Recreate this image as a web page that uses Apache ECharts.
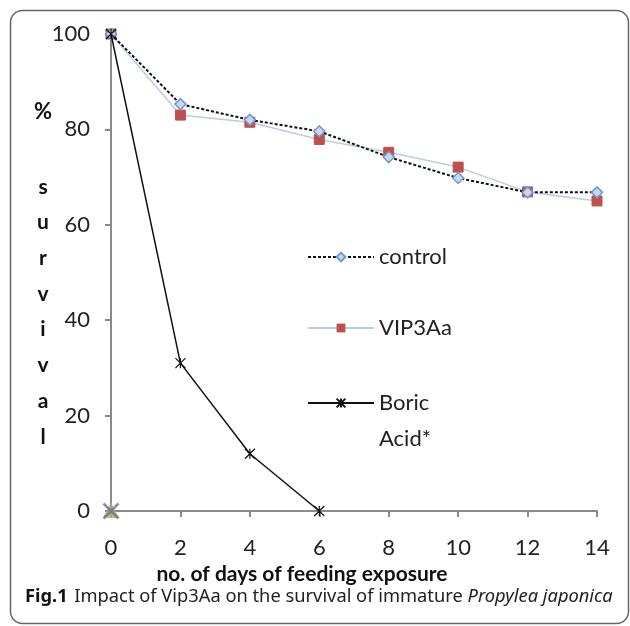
<!DOCTYPE html>
<html>
<head>
<meta charset="utf-8">
<script src="https://cdn.jsdelivr.net/npm/echarts@6/dist/echarts.min.js"></script>
<style>
  html, body { margin: 0; padding: 0; background: #fff; }
  #chart { width: 630px; height: 626px; }
</style>
</head>
<body>
<div id="chart"></div>
<script>
// days of feeding exposure
const days = [0, 2, 4, 6, 8, 10, 12, 14];
// % survival
const control = [100, 85.3, 82, 79.6, 74.2, 69.8, 66.8, 66.8];
const vip3aa = [100, 83, 81.5, 77.9, 75.2, 72.1, 66.9, 65];
const boricDays = [0, 2, 4, 6];
const boricAcid = [100, 31, 12, 0];
// stray markers sitting at the origin in the original
const originPoint = [[0, 0]];

const FONT = "Lato";
const ASTERISK = "path://M0,0L10,10M10,0L0,10M5,0L5,10";
const CROSS = "path://M0,0L10,10M10,0L0,10";

const chart = echarts.init(document.getElementById("chart"), null, { renderer: "canvas" });

const pairs = (xs, ys) => xs.map((x, i) => [x, ys[i]]);

const legendBase = {
  orient: "vertical",
  left: 302,
  itemWidth: 66,
  itemHeight: 11,
  selectedMode: false,
  textStyle: { fontFamily: FONT, fontSize: 22, color: "#222" },
};

const option = {
  backgroundColor: "#fff",
  animation: false,
  grid: { left: 111, right: 33, top: 34, bottom: 115 },
  legend: [
    Object.assign({}, legendBase, { top: 241, data: ["control"] }),
    Object.assign({}, legendBase, { top: 312, data: ["VIP3Aa"] }),
    Object.assign({}, legendBase, {
      top: 351,
      data: ["Boric Acid*"],
      formatter: () => "{a|Boric\nAcid*}",
      textStyle: {
        fontFamily: FONT, fontSize: 22, color: "#222",
        rich: { a: { fontFamily: FONT, fontSize: 22, color: "#222", lineHeight: 36, padding: [36, 0, 0, 0] } },
      },
    }),
  ],
  xAxis: {
    type: "value",
    min: 0,
    max: 14,
    interval: 2,
    name: "no. of days of feeding exposure",
    nameLocation: "middle",
    nameGap: 53,
    nameTextStyle: { fontFamily: FONT, fontSize: 21, fontWeight: "bold", color: "#111", padding: [0, 104, 0, 0] },
    axisLine: { lineStyle: { color: "#8a8a8a", width: 2 } },
    axisTick: { length: 6, lineStyle: { color: "#8a8a8a", width: 2 } },
    axisLabel: { fontFamily: FONT, fontSize: 22, color: "#222", margin: 26 },
    splitLine: { show: false },
  },
  yAxis: {
    type: "value",
    min: 0,
    max: 100,
    interval: 20,
    axisLine: { show: true, lineStyle: { color: "#8a8a8a", width: 2 } },
    axisTick: { show: true, length: 6, lineStyle: { color: "#8a8a8a", width: 2 } },
    axisLabel: { fontFamily: FONT, fontSize: 22, color: "#222", margin: 21 },
    splitLine: { show: false },
  },
  graphic: [
    {
      type: "rect",
      shape: { x: 10.5, y: 10.5, width: 618, height: 613, r: 12 },
      style: { fill: "none", stroke: "#666", lineWidth: 1.5 },
      silent: true,
    },
    {
      type: "text",
      left: 34,
      top: 101,
      style: { text: "%", fontFamily: FONT, fontSize: 22, fontWeight: "bold", fill: "#111" },
    },
    {
      type: "text",
      x: 43,
      y: 169,
      style: {
        text: "s\nu\nr\nv\ni\nv\na\nl",
        fontFamily: FONT, fontSize: 21, fontWeight: "bold", fill: "#111",
        align: "center", lineHeight: 35.7,
      },
    },
    {
      type: "text",
      left: 25,
      top: 588,
      style: {
        text: "{b|Fig.1}  {r|Impact of Vip3Aa on the survival of immature }{i|Propylea japonica}",
        rich: {
          b: { fontFamily: "Noto Sans", fontSize: 18.3, fontWeight: "bold", fill: "#111" },
          r: { fontFamily: "Noto Sans", fontSize: 18.3, fill: "#222" },
          i: { fontFamily: "Noto Sans", fontSize: 18.3, fontStyle: "italic", fill: "#222" },
        },
      },
    },
  ],
  series: [
    {
      name: "VIP3Aa",
      type: "line",
      data: pairs(days, vip3aa),
      symbol: "rect",
      symbolSize: 10,
      lineStyle: { color: "#b9cde5", width: 1.5 },
      itemStyle: { color: "#c0504d", borderColor: "#c0504d" },
      z: 2,
    },
    {
      name: "control",
      type: "line",
      data: pairs(days, control),
      symbol: "diamond",
      symbolSize: 11,
      lineStyle: { color: "#111", width: 2, type: [3, 2] },
      itemStyle: { color: "#c6d9f1", borderColor: "#7299cc", borderWidth: 1.5 },
      z: 3,
    },
    {
      name: "Boric Acid*",
      type: "line",
      data: pairs(boricDays, boricAcid),
      symbol: ASTERISK,
      symbolSize: 10,
      lineStyle: { color: "#111", width: 1.5 },
      itemStyle: { color: "none", borderColor: "#111", borderWidth: 1.2 },
      z: 4,
    },
    {
      name: "origin-triangle",
      type: "scatter",
      data: originPoint,
      symbol: "triangle",
      symbolSize: 16,
      symbolOffset: [0, -1],
      itemStyle: { color: "#9bbb59" },
      z: 5,
    },
    {
      name: "origin-cross",
      type: "scatter",
      data: originPoint,
      symbol: CROSS,
      symbolSize: 15,
      itemStyle: { color: "none", borderColor: "#8064a2", borderWidth: 2.5 },
      z: 6,
    },
  ],
};

chart.setOption(option);
</script>
</body>
</html>
